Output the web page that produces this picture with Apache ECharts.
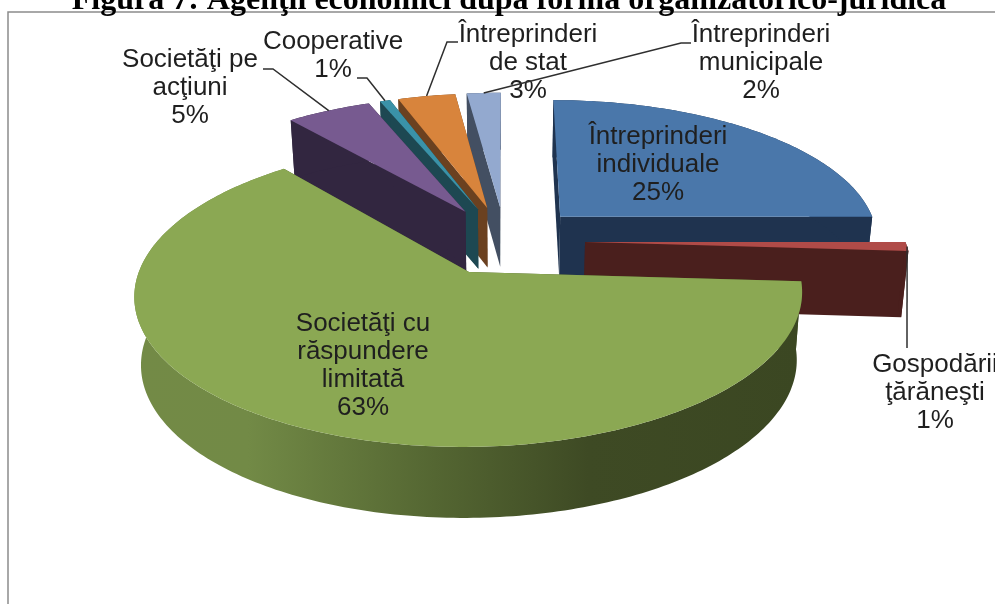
<!DOCTYPE html>
<html>
<head>
<meta charset="utf-8">
<title>Figura 7</title>
<style>
  html, body { margin: 0; padding: 0; background: #fff; }
  #main { width: 995px; height: 604px; overflow: hidden; }
</style>
<script src="https://cdn.jsdelivr.net/npm/echarts@6/dist/echarts.min.js"></script>
</head>
<body>
<div id="main"></div>
<script>
// data, clockwise from 12 o'clock
var categories = [
  'Întreprinderi\nindividuale',
  'Gospodării\nţărăneşti',
  'Societăţi cu\nrăspundere\nlimitată',
  'Societăţi pe\nacţiuni',
  'Cooperative',
  'Întreprinderi\nde stat',
  'Întreprinderi\nmunicipale'
];
// slice sizes; printed labels are rounded
var shares = [25, 1, 63, 5, 0.6, 3.4, 2];

// styling
var topColors = ['#4a77aa', '#b04b48', '#8ba853', '#775a90', '#3a92a8', '#d8843c', '#93a9cf'];
var wallColors = ['#1f334f', '#4a1f1d', '#4d5c2b', '#322640', '#1d4852', '#6b4120', '#434f62'];
// back slices first so the front ones cover them
var drawOrder = [6, 5, 4, 3, 0, 1, 2];
var wallDepths = [60, 66, 67, 60, 60, 60, 60];
var explodes = [0.25, 0.25, 0.24, 0.25, 0.25, 0.25, 0.25];
// label centre, and the leader's elbow points (null = label sits on the slice)
var labelCenters = [[658, 165], [935, 393], [363, 366], [190, 88], [333, 56], [528, 63], [761, 63]];
var leaderElbows = [
  null,
  [[907, 348]],
  null,
  [[263, 69], [273, 69]],
  [[357, 78], [367, 78]],
  [[458, 42], [447, 42]],
  [[691, 43], [681, 43]]
];

// pie geometry, fitted to the picture
var CX = 505, CY = 241, RX = 320, RY = 140;
var PERSP = 0.144;

function project(u, v) {
  var s = 1 / (1 - PERSP * v);
  return [CX + RX * u * s, CY + RY * v * s, s];
}
function dropDown(p, depth) {
  // same point on the bottom face of the pie
  return [CX + (p[0] - CX) * 0.982, p[1] + depth * Math.pow(p[2], 0.3)];
}

var total = shares.reduce(function (a, b) { return a + b; }, 0);
var slices = [];
shares.reduce(function (acc, val, idx) {
  var a0 = acc / total * Math.PI * 2;
  var a1 = (acc + val) / total * Math.PI * 2;
  var mid = (a0 + a1) / 2;
  var ox = explodes[idx] * Math.sin(mid), oy = -explodes[idx] * Math.cos(mid);
  var arc = [];
  var n = Math.max(4, Math.round((a1 - a0) * 180 / Math.PI));
  for (var k = 0; k <= n; k++) {
    var a = a0 + (a1 - a0) * k / n;
    arc.push(project(ox + Math.sin(a), oy - Math.cos(a)));
  }
  slices.push({
    apex: project(ox, oy),
    arc: arc,
    rim: project(ox + Math.sin(mid), oy - Math.cos(mid))
  });
  return acc + val;
}, 0);

function xy(p) { return [p[0], p[1]]; }

var greenWall = new echarts.graphic.LinearGradient(0, 0, 1, 0, [
  { offset: 0, color: '#738a46' },
  { offset: 0.17, color: '#728a46' },
  { offset: 0.45, color: '#546632' },
  { offset: 0.68, color: '#3e4a24' },
  { offset: 1, color: '#3b4722' }
]);

function renderSlice(params, api) {
  var i = api.value(1);
  var sl = slices[i];
  var wall = wallColors[i];
  var d = wallDepths[i];
  var drop = function (p) { return dropDown(p, d); };
  var topPts = [xy(sl.apex)].concat(sl.arc.map(xy));
  var apexB = drop(sl.apex);
  var first = sl.arc[0], last = sl.arc[sl.arc.length - 1];
  var outer = sl.arc.map(xy).concat(sl.arc.map(drop).reverse());
  var children = [
    { type: 'polygon', shape: { points: [xy(sl.apex), xy(first), drop(first), apexB] }, style: { fill: wall } },
    { type: 'polygon', shape: { points: [xy(sl.apex), xy(last), drop(last), apexB] }, style: { fill: wall } },
    { type: 'polygon', shape: { points: outer }, style: { fill: i === 2 ? greenWall : wall } },
    { type: 'polygon', shape: { points: topPts }, style: { fill: topColors[i] } }
  ];
  return { type: 'group', children: children };
}

function renderLabel(params, api) {
  var i = api.value(1);
  var c = labelCenters[i];
  var children = [];
  if (leaderElbows[i]) {
    children.push({
      type: 'polyline',
      shape: { points: leaderElbows[i].concat([xy(slices[i].rim)]) },
      style: { stroke: '#2f2f2f', lineWidth: 1.5, fill: null }
    });
  }
  children.push({
    type: 'text',
    style: {
      x: c[0], y: c[1],
      text: categories[i] + '\n' + Math.round(api.value(0)) + '%',
      font: '26px "Liberation Sans"',
      lineHeight: 28,
      fill: '#1f1f1f',
      align: 'center',
      verticalAlign: 'middle'
    }
  });
  return { type: 'group', children: children };
}

var myChart = echarts.init(document.getElementById('main'), null, { renderer: 'canvas' });
myChart.setOption({
  animation: false,
  backgroundColor: '#fff',
  title: {
    text: 'Figura 7: Agenţii economici după forma organizatorico-juridică',
    left: 504, textAlign: 'center', top: -20,
    textStyle: { fontFamily: 'Liberation Serif', fontWeight: 'bold', fontSize: 32, color: '#000' }
  },
  graphic: [{
    type: 'rect', z: -1,
    shape: { x: 8, y: 12, width: 1100, height: 700 },
    style: { fill: '#fff', stroke: '#8c8c8c', lineWidth: 1.5 }
  }],
  series: [
    {
      type: 'custom', coordinateSystem: 'none', z: 2,
      silent: true,
      renderItem: renderSlice,
      data: drawOrder.map(function (i) { return { name: categories[i], value: [shares[i], i] }; })
    },
    {
      type: 'custom', coordinateSystem: 'none', z: 3,
      silent: true,
      renderItem: renderLabel,
      data: shares.map(function (v, i) { return { name: categories[i], value: [v, i] }; })
    }
  ]
});
window.addEventListener('resize', function () { myChart.resize(); });
</script>
</body>
</html>
